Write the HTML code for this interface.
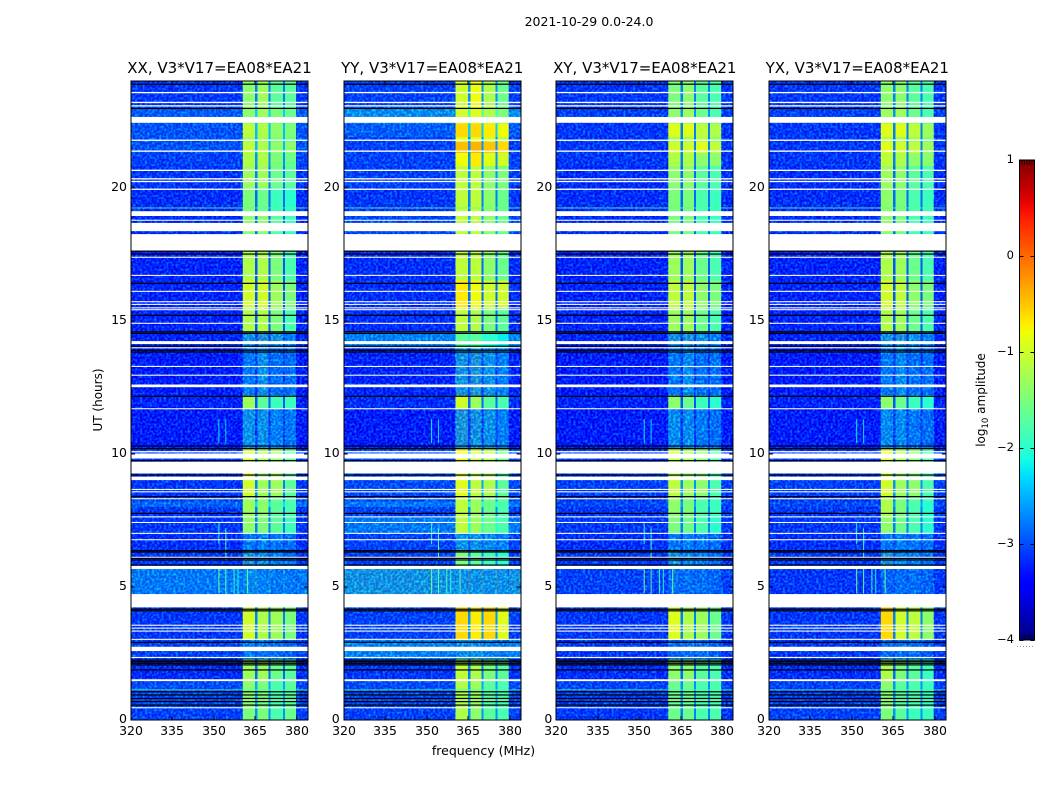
<!DOCTYPE html>
<html>
<head>
<meta charset="utf-8">
<title>2021-10-29 spectrogram</title>
<style>
html,body{margin:0;padding:0;background:#fff;}
svg{display:block;}
text{font-family:"DejaVu Sans","Liberation Sans",sans-serif;fill:#000;}
</style>
</head>
<body>
<svg id="chart" xmlns="http://www.w3.org/2000/svg" width="1050" height="800" viewBox="0 0 1050 800">
<defs>
<filter id="speckle" x="0" y="0" width="100%" height="100%" color-interpolation-filters="sRGB">
<feTurbulence type="fractalNoise" baseFrequency="0.42" numOctaves="1" seed="4"/>
<feColorMatrix type="matrix" values="0 0 0 0 0 2.2 0 0 0 -0.9 1.4 0 0 0 0.35 0 0 0 0 0.55"/>
</filter>
<linearGradient id="cbar-gradient" x1="0" y1="1" x2="0" y2="0"></linearGradient>
</defs>
<text x="589" y="26" font-size="12.5" text-anchor="middle">2021-10-29 0.0-24.0</text>
<text x="483.5" y="755" font-size="12.5" text-anchor="middle">frequency (MHz)</text>
<text transform="translate(102,400) rotate(-90)" font-size="12" text-anchor="middle">UT (hours)</text>
<text transform="translate(985,400) rotate(-90)" font-size="12" text-anchor="middle">log<tspan font-size="8.5" dy="3">10</tspan><tspan dy="-3"> amplitude</tspan></text>
</svg>
<script>
// ---- data ----
const panelTitles = ["XX, V3*V17=EA08*EA21", "YY, V3*V17=EA08*EA21", "XY, V3*V17=EA08*EA21", "YX, V3*V17=EA08*EA21"];
const freqTicks = [320, 335, 350, 365, 380];
const utTicks = [0, 5, 10, 15, 20];
const cbarTicks = [1, 0, -1, -2, -3, -4];
const channelBands = [[360.4, 364.9], [365.8, 369.8], [370.5, 374.9], [375.6, 379.7]];
const utEdges = [0, .45, 1.5, 2.3, 3, 4.2, 4.73, 5.75, 6.4, 7, 7.6, 8.0, 8.2, 8.4, 9.7, 10.2, 11.7, 12.2, 14, 14.6, 15.5, 16.5, 17.6, 19, 20, 20.8, 21.3, 21.7, 21.9, 22.4, 23, 24];

// each row: background, channel 1..4 (log10 amplitude)
const xxLevels = [
[-3.0,-1.5,-1.5,-1.8,-1.6],[-2.9,-1.4,-1.5,-1.8,-1.7],[-3.2,-1.3,-1.3,-1.6,-1.7],[-3.0,-2.4,-2.4,-2.5,-2.7],
[-3.1,-1.0,-1.2,-1.3,-1.5],[-3.1,-1.0,-1.2,-1.3,-1.5],[-2.4,-2.2,-2.3,-2.4,-2.4],[-3.1,-1.9,-2.1,-2.3,-2.5],
[-3.2,-2.4,-2.3,-2.4,-2.5],[-3.1,-1.4,-1.5,-1.7,-1.9],[-3.1,-1.3,-1.4,-1.7,-1.8],[-2.6,-1.3,-1.4,-1.7,-1.8],[-3.0,-1.3,-1.4,-1.6,-1.8],[-3.1,-1.0,-1.3,-1.3,-1.7],
[-3.1,-1.0,-1.2,-1.3,-1.7],[-3.4,-2.1,-2.1,-2.3,-2.4],[-3.3,-1.3,-1.7,-1.9,-1.9],[-3.4,-2.4,-2.1,-2.5,-2.5],
[-3.3,-2.0,-1.8,-2.0,-2.3],[-3.3,-1.2,-1.2,-1.5,-1.8],[-3.3,-1.0,-1.0,-1.3,-1.5],[-3.3,-1.2,-1.2,-1.5,-1.8],
[-3.2,-1.4,-1.4,-1.7,-1.9],[-3.2,-1.5,-1.6,-1.9,-2.0],[-3.1,-1.3,-1.3,-1.6,-1.7],[-3.0,-1.2,-1.2,-1.5,-1.6],
[-2.8,-1.1,-1.2,-1.4,-1.4],[-2.8,-1.3,-1.3,-1.5,-1.6],[-2.8,-1.1,-1.2,-1.4,-1.5],[-2.7,-1.4,-1.3,-1.5,-1.6],[-3.1,-1.4,-1.3,-1.7,-1.7]];
const yyLevels = [
[-3.0,-1.2,-1.4,-1.7,-1.8],[-2.9,-1.2,-1.3,-1.7,-1.8],[-3.1,-1.1,-1.2,-1.5,-1.7],[-2.3,-2.2,-2.2,-2.3,-2.4],
[-3.0,-0.6,-0.7,-0.6,-0.9],[-3.0,-0.6,-0.7,-0.6,-0.9],[-2.0,-2.1,-2.1,-2.1,-2.1],[-3.0,-1.5,-1.7,-1.9,-2.0],
[-3.0,-2.1,-2.1,-2.2,-2.3],[-2.4,-1.1,-1.3,-1.6,-1.8],[-3.0,-1.1,-1.3,-1.6,-1.8],[-2.4,-1.1,-1.3,-1.6,-1.8],[-2.9,-1.1,-1.3,-1.5,-1.7],[-2.9,-0.9,-1.1,-1.2,-1.7],
[-2.9,-0.8,-1.0,-1.1,-1.6],[-3.4,-1.9,-2.0,-2.1,-2.3],[-3.2,-1.0,-1.3,-1.7,-1.8],[-3.3,-2.0,-1.9,-2.1,-2.3],
[-2.3,-1.7,-1.7,-2.0,-2.2],[-3.2,-1.1,-1.2,-1.5,-1.7],[-3.2,-0.7,-0.8,-1.0,-1.0],[-3.2,-1.1,-1.1,-1.4,-1.6],
[-2.9,-1.1,-1.1,-1.4,-1.6],[-3.1,-1.1,-1.1,-1.4,-1.6],[-3.0,-1.1,-1.1,-1.4,-1.5],[-3.0,-0.8,-0.7,-0.9,-1.0],
[-3.0,-0.45,-0.4,-0.5,-0.6],[-3.0,-0.9,-0.9,-1.0,-1.1],[-2.7,-0.6,-0.6,-0.7,-0.8],[-2.2,-1.0,-0.9,-1.2,-1.5],[-3.0,-1.0,-0.8,-1.2,-1.6]];
const xyLevels = [
[-3.1,-1.6,-1.6,-1.8,-1.8],[-3.0,-1.6,-1.6,-1.8,-1.8],[-3.2,-1.4,-1.4,-1.7,-1.8],[-3.1,-2.5,-2.5,-2.5,-2.7],
[-3.1,-0.9,-1.2,-1.3,-1.6],[-3.1,-0.9,-1.2,-1.3,-1.6],[-3.0,-2.5,-2.5,-2.5,-2.6],[-3.1,-2.0,-2.2,-2.3,-2.5],
[-3.2,-2.4,-2.3,-2.4,-2.5],[-3.1,-1.5,-1.6,-1.8,-2.0],[-3.1,-1.4,-1.5,-1.8,-1.9],[-2.9,-1.4,-1.5,-1.8,-1.9],[-3.1,-1.3,-1.5,-1.7,-1.9],[-3.0,-1.1,-1.3,-1.4,-1.8],
[-3.1,-1.0,-1.2,-1.4,-1.8],[-3.4,-2.2,-2.2,-2.4,-2.5],[-3.3,-1.4,-1.6,-1.9,-2.0],[-3.4,-2.4,-2.2,-2.5,-2.5],
[-3.3,-2.0,-1.9,-2.1,-2.3],[-3.3,-1.3,-1.3,-1.6,-1.8],[-3.3,-1.1,-1.1,-1.4,-1.5],[-3.3,-1.3,-1.3,-1.6,-1.8],
[-3.2,-1.5,-1.5,-1.8,-1.9],[-3.2,-1.5,-1.5,-1.8,-1.9],[-3.2,-1.4,-1.4,-1.7,-1.8],[-3.1,-1.2,-1.2,-1.4,-1.4],
[-3.1,-1.0,-1.0,-0.9,-1.1],[-3.1,-1.3,-1.3,-1.2,-1.4],[-3.1,-0.9,-0.9,-1.1,-1.2],[-3.0,-1.4,-1.3,-1.6,-1.8],[-3.1,-1.5,-1.4,-1.7,-1.8]];
const yxLevels = [
[-3.0,-1.5,-1.7,-1.9,-1.9],[-3.0,-1.4,-1.7,-1.8,-1.9],[-3.2,-1.2,-1.5,-1.7,-1.9],[-3.1,-2.5,-2.5,-2.5,-2.7],
[-3.1,-0.6,-1.0,-1.1,-1.4],[-3.1,-0.6,-1.0,-1.1,-1.4],[-3.1,-2.6,-2.5,-2.5,-2.6],[-3.1,-1.9,-2.2,-2.3,-2.5],
[-3.2,-2.4,-2.3,-2.4,-2.5],[-3.1,-1.4,-1.6,-1.8,-2.0],[-3.1,-1.2,-1.5,-1.8,-2.0],[-2.9,-1.2,-1.5,-1.8,-2.0],[-3.1,-1.2,-1.5,-1.7,-1.9],[-3.0,-1.0,-1.3,-1.4,-1.8],
[-3.1,-0.9,-1.2,-1.4,-1.8],[-3.4,-2.2,-2.2,-2.4,-2.5],[-3.3,-1.4,-1.6,-1.9,-2.0],[-3.4,-2.4,-2.2,-2.5,-2.5],
[-3.3,-2.0,-1.9,-2.1,-2.3],[-3.3,-1.2,-1.3,-1.6,-1.8],[-3.3,-1.0,-1.1,-1.4,-1.5],[-3.3,-1.2,-1.3,-1.6,-1.8],
[-3.2,-1.4,-1.5,-1.8,-1.9],[-3.2,-1.4,-1.5,-1.8,-1.9],[-3.2,-1.3,-1.4,-1.7,-1.8],[-3.1,-1.1,-1.2,-1.4,-1.4],
[-3.1,-0.9,-1.0,-1.1,-1.3],[-3.1,-1.2,-1.3,-1.3,-1.5],[-3.1,-0.9,-0.9,-1.1,-1.3],[-3.0,-1.3,-1.3,-1.6,-1.8],[-3.1,-1.4,-1.4,-1.7,-1.8]];
const panelLevels = [xxLevels, yyLevels, xyLevels, yxLevels];

// flagged (blank) time ranges in UT hours
const flaggedRanges = [
[.44,.48],[1.46,1.53],[2.33,2.37],[2.59,2.75],[3.01,3.05],[3.32,3.36],[3.43,3.47],[3.54,3.58],[4.23,4.73],[5.67,5.79],[6.09,6.13],
[6.75,6.79],[6.99,7.03],[7.40,7.44],[7.61,7.65],[8.29,8.33],[8.55,8.59],[8.64,8.68],[9.01,9.14],[9.26,9.70],[9.82,10.01],
[10.05,10.10],[11.67,11.71],[12.50,12.60],[12.93,12.97],[13.26,13.30],[13.96,14.00],[14.12,14.23],[14.88,14.92],[15.39,15.43],
[15.46,15.50],[15.59,15.63],[15.69,15.73],[16.08,16.12],[16.68,16.72],[17.36,17.40],[17.62,18.25],[18.36,18.67],[18.75,18.79],
[18.93,19.11],[19.91,19.96],[20.20,20.25],[20.30,20.35],[20.62,20.67],[21.34,21.39],[21.75,21.80],[22.43,22.65],[23.04,23.09],[23.17,23.22],[23.54,23.59]];
// dead-time (black) rows in UT hours
const deadRows = [.56,.69,.81,.94,1.06,1.88,2.07,2.13,2.19,2.25,2.92,4.10,4.16,5.82,6.01,6.07,6.31,6.36,7.76,8.39,9.20,9.74,10.19,10.29,12.16,13.82,13.89,14.04,14.52,14.58,15.20,16.40,17.50,17.61,22.97,23.88];
// narrow RFI lines, one entry per line
const rfiFreqs = [351.6, 354.1, 357.1, 358.5, 361.9, 351.6, 354.1, 351.6, 354.1];
const rfiStarts = [4.75, 4.75, 4.75, 4.75, 4.75, 6.6, 6.0, 10.4, 10.4];
const rfiEnds = [5.7, 5.7, 5.7, 5.7, 5.7, 7.4, 7.2, 11.3, 11.3];
const rfiLevels = [-1.6, -1.7, -1.9, -2.1, -1.6, -2.0, -1.9, -2.2, -2.3];
// bright horizontal RFI rows: UT, level
const rfiRowUT = [1.15, 19.25];
const rfiRowLevel = [-1.9, -1.7];
const dimRowLimit = -1.85;

// ---- scales ----
const panelLeft = [131, 343.7, 556.3, 768.8];
const panelWidth = 177, plotTop = 81, plotBottom = 720;
const xScale = (f, p) => panelLeft[p] + (f - 320) * (panelWidth / 64);
const yScale = u => plotBottom - u * ((plotBottom - plotTop) / 24);
const clamp = v => Math.max(0, Math.min(1, v));
function jet(level) {
  const t = (level + 4) / 5;
  const r = t < .35 ? 0 : t < .66 ? (t - .35) / .31 : t < .89 ? 1 : 1 - (t - .89) / .11 * .5;
  const g = t < .125 ? 0 : t < .375 ? (t - .125) / .25 : t < .64 ? 1 : t < .91 ? 1 - (t - .64) / .27 : 0;
  const b = t < .11 ? .5 + t / .11 * .5 : t < .34 ? 1 : t < .65 ? 1 - (t - .34) / .31 : 0;
  return 'rgb(' + Math.round(clamp(r) * 255) + ',' + Math.round(clamp(g) * 255) + ',' + Math.round(clamp(b) * 255) + ')';
}
const NS = 'http://www.w3.org/2000/svg';
const chart = document.getElementById('chart');
function mk(tag, attrs, parent) {
  const el = document.createElementNS(NS, tag);
  for (const k in attrs) el.setAttribute(k, attrs[k]);
  (parent || chart).appendChild(el);
  return el;
}
const minus = v => String(v).replace('-', '\u2212');

panelLevels.forEach(function (levels, p) {
  const group = mk('g', {});
  
  
  const x0 = xScale(320, p), x1 = xScale(384, p);
  const bandA = xScale(channelBands[0][0], p), bandB = xScale(channelBands[3][1], p);

  // heatmap cells
  levels.forEach(function (row, i) {
    const y1 = yScale(utEdges[i + 1]), y0 = yScale(utEdges[i]);
    const spans = [[320, channelBands[0][0], row[0]]];
    channelBands.forEach(function (band, c) {
      spans.push([band[0], band[1], row[c + 1]]);
      const next = c < 3 ? channelBands[c + 1][0] : 384;
      spans.push([band[1], next, c < 3 ? row[0] + .35 : row[0]]);
    });
    spans.forEach(function (s) {
      const a = xScale(s[0], p), b = xScale(s[1], p);
      const cell = mk('rect', { x: a, y: y1, width: b - a, height: y0 - y1, fill: jet(s[2]), 'shape-rendering': 'crispEdges' }, group);
      
      
    });
    if (row[1] < dimRowLimit) {
      const dim = mk('rect', { x: bandA, y: y1, width: bandB - bandA, height: y0 - y1, filter: 'url(#speckle)' }, group);
      
      
    }
  });

  // background speckle texture
  const n1 = mk('rect', { x: x0, y: plotTop, width: bandA - x0, height: plotBottom - plotTop, filter: 'url(#speckle)' }, group);
  
  
  const n2 = mk('rect', { x: bandB, y: plotTop, width: x1 - bandB, height: plotBottom - plotTop, filter: 'url(#speckle)' }, group);
  
  

  // RFI lines
  rfiFreqs.forEach(function (f, k) {
    const line = mk('rect', { x: xScale(f, p), y: yScale(rfiEnds[k]), width: 1, height: yScale(rfiStarts[k]) - yScale(rfiEnds[k]), fill: jet(rfiLevels[k]) }, group);
    
    
  });
  rfiRowUT.forEach(function (u, k) {
    const line = mk('rect', { x: x0, y: yScale(u), width: x1 - x0, height: 1, fill: jet(rfiRowLevel[k]), opacity: .8 }, group);
    
    
  });

  // flagged and dead rows
  flaggedRanges.forEach(function (r) {
    const rect = mk('rect', { x: x0, y: yScale(r[1]), width: x1 - x0, height: yScale(r[0]) - yScale(r[1]), fill: '#fff' }, group);
    
    
  });
  deadRows.forEach(function (u) {
    const rect = mk('rect', { x: x0, y: yScale(u) - .6, width: x1 - x0, height: 1.2, fill: '#000' }, group);
    
    
  });

  // frame
  const frame = mk('rect', { x: Math.round(x0), y: plotTop, width: panelWidth, height: plotBottom - plotTop, fill: 'none', stroke: '#000', 'stroke-width': 1 }, group);
  
  

  // title
  const title = mk('text', { x: x0 + panelWidth / 2, y: 73, 'font-size': 15, 'text-anchor': 'middle' }, group);
  
  
  title.textContent = panelTitles[p];

  // x ticks
  freqTicks.forEach(function (f) {
    const x = Math.round(xScale(f, p));
    const tb = mk('line', { x1: x, x2: x, y1: plotBottom, y2: plotBottom - 4, stroke: '#000', 'stroke-width': 1 }, group);
    
    
    const tt = mk('line', { x1: x, x2: x, y1: plotTop, y2: plotTop + 4, stroke: '#000', 'stroke-width': 1 }, group);
    
    
    const lb = mk('text', { x: x, y: 735, 'font-size': 12.5, 'text-anchor': 'middle' }, group);
    
    
    lb.textContent = f;
  });

  // y ticks
  utTicks.forEach(function (u) {
    const y = Math.round(yScale(u));
    const tl = mk('line', { x1: x0, x2: x0 + 4, y1: y, y2: y, stroke: '#000', 'stroke-width': 1 }, group);
    
    
    const tr = mk('line', { x1: x1, x2: x1 - 4, y1: y, y2: y, stroke: '#000', 'stroke-width': 1 }, group);
    
    
    const lb = mk('text', { x: x0 - 4, y: y + 3, 'font-size': 12.5, 'text-anchor': 'end' }, group);
    
    
    lb.textContent = u;
  });
});

// ---- colorbar ----
const cbX = 1019.5, cbW = 15, cbTop = 160, cbBottom = 640;
const cbScale = v => cbBottom - (v + 4) / 5 * (cbBottom - cbTop);
const grad = document.getElementById('cbar-gradient');
for (let i = 0; i <= 50; i++) {
  mk('stop', { offset: (i / 50), 'stop-color': jet(-4 + i / 10) }, grad);
}
const cbGroup = mk('g', {});


const bar = mk('rect', { x: cbX, y: cbTop, width: cbW, height: cbBottom - cbTop, fill: 'url(#cbar-gradient)', stroke: '#000', 'stroke-width': 1 }, cbGroup);


cbarTicks.forEach(function (v) {
  const y = Math.round(cbScale(v)) + .5;
  const tl = mk('line', { x1: cbX, x2: cbX + 4, y1: y, y2: y, stroke: '#000', 'stroke-width': 1 }, cbGroup);
  
  
  const tr = mk('line', { x1: cbX + cbW, x2: cbX + cbW - 4, y1: y, y2: y, stroke: '#000', 'stroke-width': 1 }, cbGroup);
  
  
  const lb = mk('text', { x: 1014, y: y + 2.5, 'font-size': 11.5, 'text-anchor': 'end' }, cbGroup);
  
  
  lb.textContent = minus(v);
});
// short end ticks at the top and bottom of the colorbar
for (let i = 1; i < 6; i++) {
  const tx = cbX + i * cbW / 6;
  const a = mk('line', { x1: tx, x2: tx, y1: cbTop, y2: cbTop + 5, stroke: '#000', 'stroke-width': 1, opacity: .7 }, cbGroup);
  
  
  const b = mk('line', { x1: tx, x2: tx, y1: cbBottom, y2: cbBottom - 5, stroke: '#000', 'stroke-width': 1, opacity: .7 }, cbGroup);
  
  
}
const dots = mk('line', { x1: 1017, x2: 1035, y1: 646.5, y2: 646.5, stroke: '#999', 'stroke-width': 1, 'stroke-dasharray': '1 2' }, cbGroup);


</script>
</body>
</html>
